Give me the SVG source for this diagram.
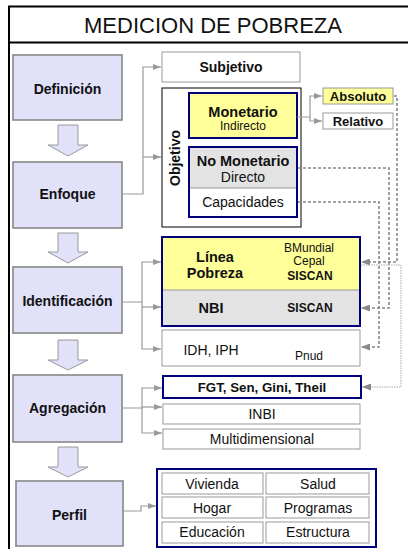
<svg xmlns="http://www.w3.org/2000/svg" width="408" height="549" viewBox="0 0 408 549">
<defs>
<marker id="ah" markerWidth="8" markerHeight="6" refX="8" refY="3" orient="auto" markerUnits="userSpaceOnUse"><path d="M0,0 L8,3 L0,6 Z" fill="#999"/></marker>
<marker id="ahd" markerWidth="9" markerHeight="7" refX="9" refY="3.5" orient="auto" markerUnits="userSpaceOnUse"><path d="M0,0 L9,3.5 L0,7 Z" fill="#888"/></marker>
<style>
text{font-family:"Liberation Sans",Arial,sans-serif;fill:#111;text-anchor:middle}
.b{font-weight:bold}
.step{fill:#e1e1f9;stroke:#888;stroke-width:1.6}
.darr{fill:#e1e1f9;stroke:#999;stroke-width:1}
.gb{fill:#fff;stroke:#999;stroke-width:1}
.nv{stroke:#00007a;stroke-width:2}
.con{fill:none;stroke:#999;stroke-width:1.2;marker-end:url(#ah)}
.dash{fill:none;stroke:#888;stroke-width:1.6;stroke-dasharray:3,2;marker-end:url(#ahd)}
.dot{fill:none;stroke:#aaa;stroke-width:1;stroke-dasharray:1.5,1;marker-end:url(#ahd)}
</style>
</defs>
<rect x="0" y="0" width="408" height="549" fill="#fff"/>
<!-- frame -->
<path d="M9,549 V6.5 H408" fill="none" stroke="#000" stroke-width="2"/>
<line x1="9" y1="42.5" x2="408" y2="42.5" stroke="#000" stroke-width="2"/>
<text x="213" y="33" style="font-size:22px">MEDICION DE POBREZA</text>

<!-- left column -->
<g id="definicion"><rect class="step" x="13" y="55" width="109" height="65"/><text class="b" x="67.5" y="94" style="font-size:14px">Definición</text></g>
<g id="enfoque"><rect class="step" x="13" y="162" width="109" height="66"/><text class="b" x="67.5" y="199" style="font-size:14px">Enfoque</text></g>
<g id="identificacion"><rect class="step" x="13" y="267" width="109" height="66"/><text class="b" x="67.5" y="306" style="font-size:14px">Identificación</text></g>
<g id="agregacion"><rect class="step" x="13" y="375" width="109" height="67"/><text class="b" x="67.5" y="413" style="font-size:14px">Agregación</text></g>
<g id="perfil"><rect class="step" x="16" y="481" width="107" height="65"/><text class="b" x="69.5" y="520" style="font-size:14px">Perfil</text></g>

<g id="down-arrows">
<polygon class="darr" points="58,125 78,125 78,145 88,145 68,156 48,145 58,145"/>
<polygon class="darr" points="58,233 78,233 78,252 88,252 68,263 48,252 58,252"/>
<polygon class="darr" points="58,340 78,340 78,360 88,360 68,370 48,360 58,360"/>
<polygon class="darr" points="58,447 78,447 78,467 88,467 68,477 48,467 58,467"/>
</g>

<!-- enfoque targets -->
<g id="subjetivo"><rect class="gb" x="162" y="52" width="138" height="30"/><text class="b" x="231" y="72" style="font-size:14px">Subjetivo</text></g>
<g id="objetivo">
<rect x="162" y="88" width="139" height="139" fill="#fff" stroke="#000" stroke-width="1"/>
<text class="b" transform="translate(180,158) rotate(-90)" style="font-size:14px">Objetivo</text>
</g>
<g id="monetario"><rect class="nv" x="189" y="93" width="108" height="45" fill="#ffff99"/>
<text class="b" x="243" y="117" style="font-size:14.5px">Monetario</text>
<text x="243" y="130" style="font-size:12px">Indirecto</text></g>
<g id="nomonetario">
<rect x="189" y="147" width="108" height="41" fill="#e3e3e3"/>
<line x1="189" y1="188" x2="297" y2="188" stroke="#999" stroke-width="1"/>
<rect class="nv" x="189" y="147" width="108" height="70" fill="none"/>
<text class="b" x="243" y="166" style="font-size:14.5px">No Monetario</text>
<text x="243" y="182" style="font-size:14px">Directo</text>
<text x="243" y="207" style="font-size:14px">Capacidades</text>
</g>
<g id="absoluto"><rect x="323" y="88" width="70" height="16" fill="#ffff99" stroke="#999" stroke-width="1"/><text class="b" x="358" y="101" style="font-size:13px">Absoluto</text></g>
<g id="relativo"><rect class="gb" x="323" y="113" width="70" height="16"/><text class="b" x="358" y="126" style="font-size:13px">Relativo</text></g>

<!-- identificacion targets -->
<g id="linea">
<rect x="162" y="237" width="198" height="53" fill="#ffff99"/>
<rect x="162" y="290" width="198" height="36" fill="#e3e3e3"/>
<line x1="162" y1="290" x2="360" y2="290" stroke="#999" stroke-width="1"/>
<rect class="nv" x="162" y="237" width="198" height="89" fill="none"/>
<text class="b" x="215" y="262" style="font-size:14.5px">Línea</text>
<text class="b" x="215" y="278" style="font-size:14.5px">Pobreza</text>
<text x="309" y="252" style="font-size:12px">BMundial</text>
<text x="309" y="265" style="font-size:12px">Cepal</text>
<text class="b" x="310" y="280" style="font-size:12px">SISCAN</text>
<text class="b" x="211" y="313" style="font-size:14.5px">NBI</text>
<text class="b" x="310" y="312" style="font-size:12px">SISCAN</text>
</g>
<g id="idh"><rect class="gb" x="162" y="330" width="198" height="36"/>
<text x="211" y="355" style="font-size:14px">IDH, IPH</text>
<text x="309" y="360" style="font-size:12px">Pnud</text></g>

<!-- agregacion targets -->
<g id="fgt"><rect class="nv" x="163" y="376" width="198" height="22" fill="#fff"/><text class="b" x="262" y="392" style="font-size:13.3px">FGT, Sen, Gini, Theil</text></g>
<g id="inbi"><rect class="gb" x="163" y="404" width="197" height="20"/><text x="262" y="419" style="font-size:14px">INBI</text></g>
<g id="multi"><rect class="gb" x="163" y="429" width="197" height="20"/><text x="262" y="444" style="font-size:14px">Multidimensional</text></g>

<!-- perfil targets -->
<g id="perfil-grid">
<rect class="nv" x="157" y="469" width="219" height="78" fill="#fff"/>
<rect class="gb" x="162" y="473" width="101" height="21"/><text x="212" y="489" style="font-size:14px">Vivienda</text>
<rect class="gb" x="266" y="473" width="103" height="21"/><text x="318" y="489" style="font-size:14px">Salud</text>
<rect class="gb" x="162" y="497" width="101" height="21"/><text x="212" y="513" style="font-size:14px">Hogar</text>
<rect class="gb" x="266" y="497" width="103" height="21"/><text x="318" y="513" style="font-size:14px">Programas</text>
<rect class="gb" x="162" y="522" width="101" height="21"/><text x="212" y="537" style="font-size:14px">Educación</text>
<rect class="gb" x="266" y="522" width="103" height="21"/><text x="318" y="537" style="font-size:14px">Estructura</text>
</g>

<g id="connectors">
<path class="con" d="M122,194 H143 V67 H161"/>
<path class="con" d="M143,157 H161"/>
<path class="con" d="M297,117 H310 V96 H322"/>
<path class="con" d="M310,117 V121 H322"/>
<path class="con" d="M122,302 H142 V262 H161"/>
<path class="con" d="M142,307 H161"/>
<path class="con" d="M142,302 V349 H161"/>
<path class="con" d="M122,408 H142 V388 H162"/>
<path class="con" d="M142,407 H162"/>
<path class="con" d="M142,407 V433 H162"/>
<path class="con" d="M123,511 H141 V506 H156"/>
<path class="dash" d="M394,96 H397 V262 H361"/>
<path class="dash" d="M298,168 H389 V308 H361"/>
<path class="dash" d="M298,202 H379 V347 H361"/>
<path class="dot" d="M361,265 H401 V387 H362"/>
</g>
</svg>
